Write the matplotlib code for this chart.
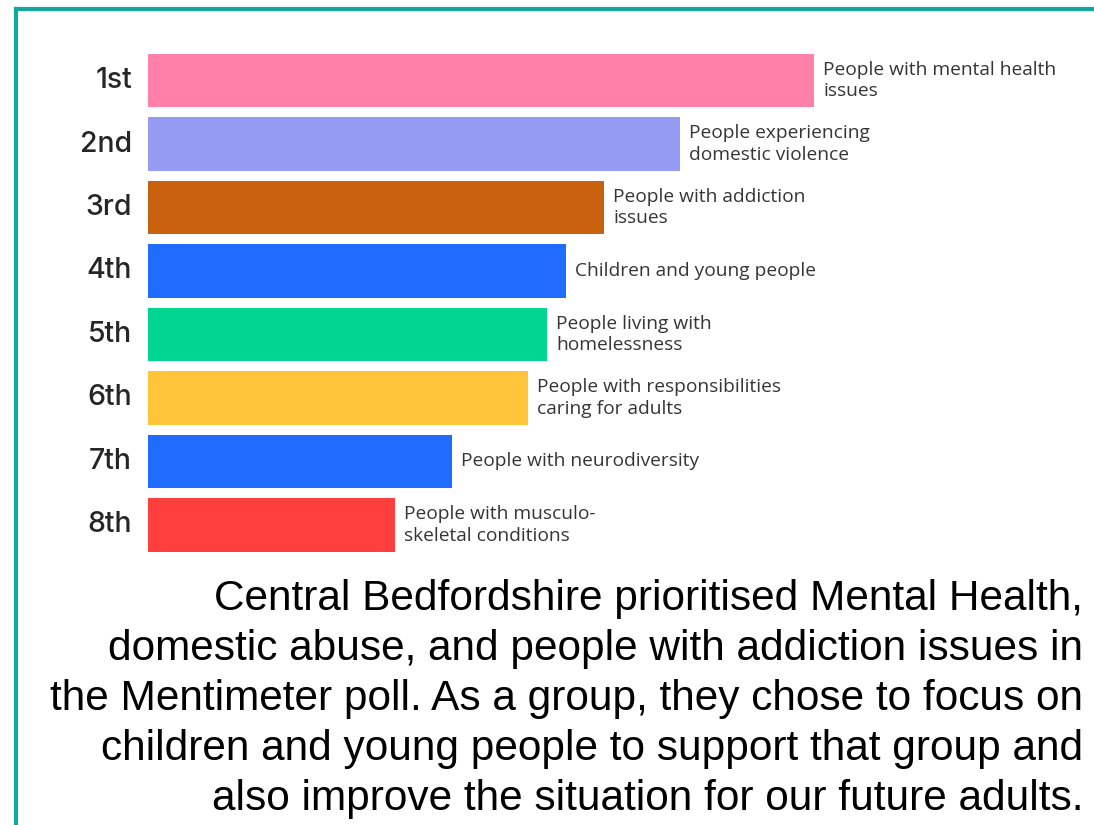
import matplotlib.pyplot as plt
from matplotlib.lines import Line2D

# Mentimeter ranking results (relative score per group)
ranks = ['1st', '2nd', '3rd', '4th', '5th', '6th', '7th', '8th']
groups = ['People with mental health\nissues',
          'People experiencing\ndomestic violence',
          'People with addiction\nissues',
          'Children and young people',
          'People living with\nhomelessness',
          'People with responsibilities\ncaring for adults',
          'People with neurodiversity',
          'People with musculo-\nskeletal conditions']
scores = [6.66, 5.32, 4.56, 4.18, 3.99, 3.80, 3.04, 2.47]
colors = ['#FF80A8', '#959AF2', '#C8620E', '#1F6CFF',
          '#00D68F', '#FFC43A', '#1F6CFF', '#FF3E3E']

caption = ('Central Bedfordshire prioritised Mental Health,\n'
           'domestic abuse, and people with addiction issues in\n'
           'the Mentimeter poll. As a group, they chose to focus on\n'
           'children and young people to support that group and\n'
           'also improve the situation for our future adults.')

W, H = 1094, 825
fig = plt.figure(figsize=(W / 100, H / 100), dpi=100)
fig.patch.set_facecolor('white')

# axes placed in pixel terms
left, top, bottom = 148, 48.75, 556.75
ax = fig.add_axes([left / W, 1 - bottom / H, (W - left) / W, (bottom - top) / H])
ypos = list(range(len(ranks)))
ax.barh(ypos, scores, height=0.835, color=colors)
ax.set_xlim(0, max(scores) * (W - left) / 666)
ax.set_ylim(7.5, -0.5)
ax.axis('off')

for y, r in zip(ypos, ranks):
    ax.annotate(r, (0, y), xytext=(-11.5, 0), textcoords='offset points',
                ha='right', va='center', fontsize=20.5, fontweight='medium',
                family='Inter', color='#262626')

for y, s, g in zip(ypos, scores, groups):
    ax.annotate(g, (s, y), xytext=(6.5, 0), textcoords='offset points',
                ha='left', va='center', fontsize=13.8, family='Open Sans',
                color='#353535', linespacing=1.22)

# baseline of the last caption line
fig.text(1083 / W, 1 - 810 / H, caption, ha='right', va='baseline',
         multialignment='right', fontsize=30.5, family='Liberation Sans',
         color='black', linespacing=1.32)

# teal frame along the top and left
teal = '#13A89E'
fig.add_artist(Line2D([16 / W, 16 / W], [0, 1 - 9 / H], color=teal, lw=3))
fig.add_artist(Line2D([16 / W, 1], [1 - 9 / H, 1 - 9 / H], color=teal, lw=3,
                      solid_capstyle='projecting'))

fig.savefig('out.png', dpi=100)
